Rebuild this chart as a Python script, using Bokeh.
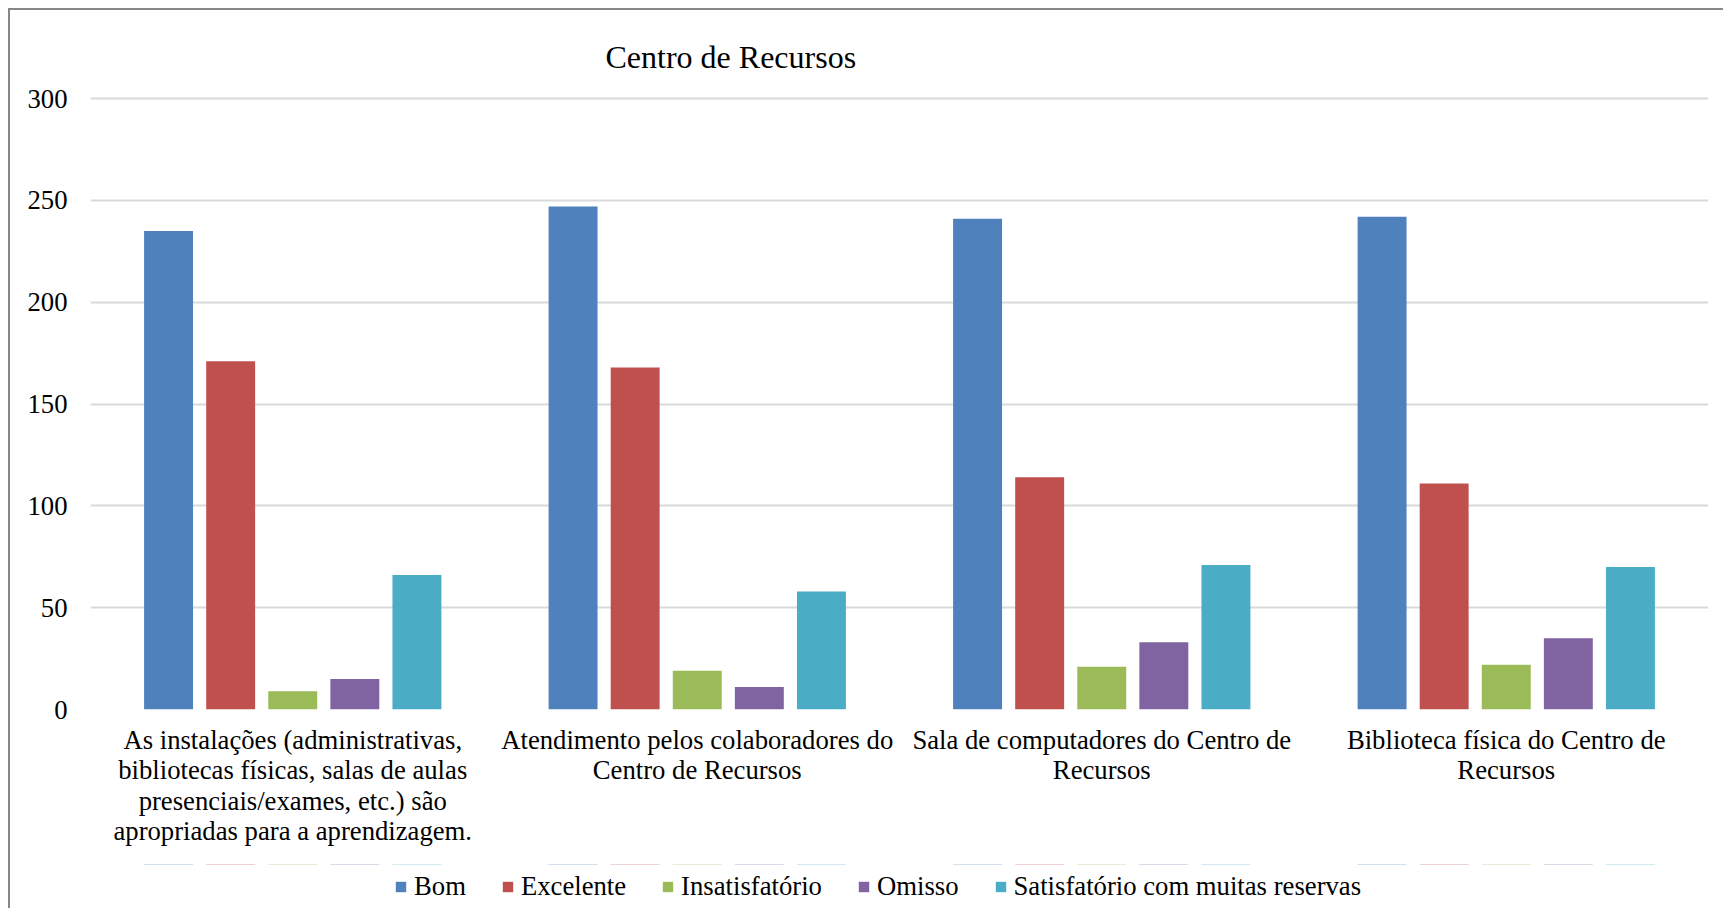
from bokeh.plotting import figure
from bokeh.layouts import column
from bokeh.models import ColumnDataSource, FactorRange, Range1d, Legend, LegendItem, FixedTicker
from bokeh.transform import dodge
from bokeh.embed import file_html
from bokeh.resources import INLINE

categories = [
    "As instalações (administrativas,\nbibliotecas físicas, salas de aulas\npresenciais/exames, etc.) são\napropriadas para a aprendizagem.",
    "Atendimento pelos colaboradores do\nCentro de Recursos",
    "Sala de computadores do Centro de\nRecursos",
    "Biblioteca física do Centro de\nRecursos",
]
series_names = ["Bom", "Excelente", "Insatisfatório", "Omisso", "Satisfatório com muitas reservas"]
bom = [235, 247, 241, 242]
excelente = [171, 168, 114, 111]
insatisfatorio = [9, 19, 21, 22]
omisso = [15, 11, 33, 35]
satisfatorio = [66, 58, 71, 70]
y_ticks = [0, 50, 100, 150, 200, 250, 300]
colors = ["#4F81BD", "#C0504D", "#9BBB59", "#8064A2", "#4BACC6"]

FONT = "Liberation Serif"
FS = "26.7px"

src = ColumnDataSource(dict(cat=categories, bom=bom, excelente=excelente,
                            insatisfatorio=insatisfatorio, omisso=omisso,
                            satisfatorio=satisfatorio))
cols = ["bom", "excelente", "insatisfatorio", "omisso", "satisfatorio"]

p = figure(frame_width=1618, frame_height=615,
           x_range=FactorRange(*categories, range_padding=0),
           y_range=Range1d(0, 302), output_backend="svg", toolbar_location=None,
           min_border_left=80, min_border_right=15, min_border_top=84, min_border_bottom=155)
p.x_range.range_padding = 0

p.title.text = "Centro de Recursos"
p.title.text_font = FONT
p.title.text_font_size = "32px"
p.title.text_font_style = "normal"
p.title.text_color = "black"
p.title.align = "left"
p.title.offset = 515
p.title.standoff = 39

pitch = 0.1535
offsets = [-2 * pitch, -pitch, 0, pitch, 2 * pitch]
for name, col, c, off in zip(series_names, cols, colors, offsets):
    p.vbar(x=dodge("cat", off, range=p.x_range), top=col, width=0.121, source=src,
           fill_color=c, line_color=None)

p.outline_line_color = None
p.xgrid.grid_line_color = None
p.ygrid.grid_line_color = "#D9D9D9"
p.ygrid.grid_line_width = 2
p.yaxis.ticker = FixedTicker(ticks=y_ticks)

for ax in (p.xaxis[0], p.yaxis[0]):
    ax.axis_line_color = None
    ax.major_tick_line_color = None
    ax.minor_tick_line_color = None
    ax.major_label_text_font = FONT
    ax.major_label_text_font_size = FS
    ax.major_label_text_color = "black"
p.yaxis.major_label_standoff = 17
p.xaxis.major_label_standoff = 9
p.xaxis.major_label_text_line_height = 1.02
p.xaxis.major_label_orientation = "horizontal"

# legend strip below the chart (its bars lie outside its own visible y range)
lg = figure(width=1713, height=44, x_range=p.x_range, y_range=Range1d(-2, -1),
            x_axis_type=None, y_axis_type=None, output_backend="svg", toolbar_location=None,
            min_border_left=0, min_border_right=0, min_border_top=0, min_border_bottom=0)
lg.outline_line_color = None
lg.xgrid.visible = False
lg.ygrid.visible = False
items = []
for name, col, c, off in zip(series_names, cols, colors, offsets):
    r = lg.vbar(x=dodge("cat", off, range=lg.x_range), top=col, width=0.121, source=src,
                fill_color=c, line_color=None)
    items.append(LegendItem(label=name, renderers=[r]))
legend = Legend(items=items, orientation="horizontal", location=(304, 6),
                label_text_font=FONT, label_text_font_size=FS, label_text_color="black",
                glyph_width=13, glyph_height=13, label_standoff=7, spacing=35,
                border_line_color=None, background_fill_alpha=0, margin=0, padding=0)
lg.add_layout(legend, "center")

layout = column(p, lg, spacing=0,
                styles={"border-left": "2px solid #878787", "border-top": "2px solid #878787",
                        "margin-left": "8px", "margin-top": "8px"})

open("out.html", "w").write(file_html(layout, INLINE))
